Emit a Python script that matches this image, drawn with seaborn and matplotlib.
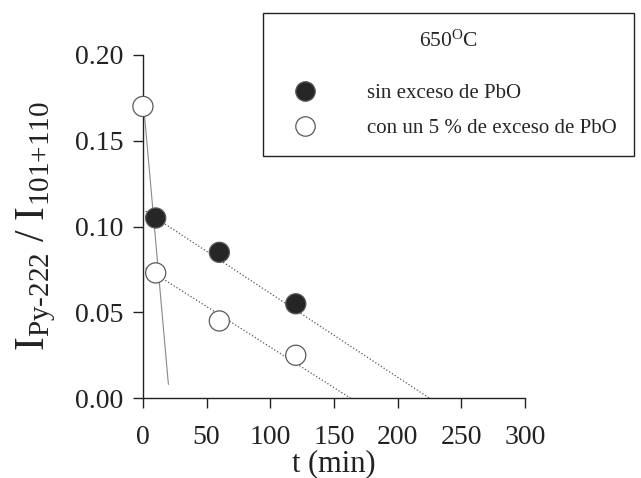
import numpy as np
import pandas as pd
import matplotlib
matplotlib.use("Agg")
import matplotlib.pyplot as plt
import seaborn as sns
from matplotlib.lines import Line2D

# datos (650 C)
t_sin = [10, 60, 120]
r_sin = [0.105, 0.085, 0.055]
t_con = [0, 10, 60, 120]
r_con = [0.170, 0.073, 0.045, 0.025]

# rectas de ajuste (extremos)
fit_sin_t = [0, 225]
fit_sin_r = [0.110, 0.0]
fit_con_t = [0, 163]
fit_con_r = [0.077, 0.0]
fit_ini_t = [0, 20]
fit_ini_r = [0.175, 0.008]

labels = ["sin exceso de PbO", "con un 5 % de exceso de PbO"]

df = pd.DataFrame({
    "t": t_sin + t_con,
    "r": r_sin + r_con,
    "serie": [labels[0]] * len(t_sin) + [labels[1]] * len(t_con),
})

sns.set_theme(style="ticks")
plt.rcParams["font.family"] = ["Liberation Serif", "DejaVu Serif"]
plt.rcParams["mathtext.fontset"] = "custom"
plt.rcParams["mathtext.rm"] = "Liberation Serif"
plt.rcParams["mathtext.it"] = "Liberation Serif:italic"

fig = plt.figure(figsize=(6.41, 4.78), dpi=100)
ax = fig.add_axes([0.223, 0.167, 0.596, 0.718])

ax.plot(fit_sin_t, fit_sin_r, ls=":", lw=0.9, color="#555555")
ax.plot(fit_con_t, fit_con_r, ls=":", lw=0.9, color="#555555")
ax.plot(fit_ini_t, fit_ini_r, ls="-", lw=0.8, color="#888888")

sns.scatterplot(data=df, x="t", y="r", hue="serie", style="serie",
                palette={labels[0]: "#262626", labels[1]: "white"},
                markers={labels[0]: "o", labels[1]: "o"},
                s=210, edgecolor="#5a5a5a", linewidth=0.9,
                legend=False, ax=ax, zorder=3, clip_on=False)

ax.set_xlim(0, 300)
ax.set_ylim(0, 0.20)
ax.set_xticks(np.arange(0, 301, 50))
ax.set_yticks(np.arange(0, 0.201, 0.05))
ax.yaxis.set_major_formatter(matplotlib.ticker.FormatStrFormatter("%.2f"))
ax.tick_params(labelsize=20, length=7, width=1, color="#222222", labelcolor="#222222")
ax.tick_params(axis="x", pad=12)
ax.tick_params(axis="y", pad=7)
sns.despine(ax=ax)
for s in ["left", "bottom"]:
    ax.spines[s].set_linewidth(1.0)
    ax.spines[s].set_color("#222222")

ax.set_xlabel("t (min)", fontsize=22, color="#222222", labelpad=0)
ylab = "$\\mathrm{I_{Py\u2010222}\\ /\\ I_{101{+}110}}$"
ax.set_ylabel(ylab, fontsize=30, color="#222222", labelpad=12)

handles = [
    Line2D([], [], ls="", marker="o", markersize=14, markerfacecolor="#262626",
           markeredgecolor="#5a5a5a", markeredgewidth=0.9),
    Line2D([], [], ls="", marker="o", markersize=14, markerfacecolor="white",
           markeredgecolor="#5a5a5a", markeredgewidth=0.9),
]
leg = fig.legend(handles, labels, title="650$^{\\mathrm{O}}$C",
                 loc="upper left", bbox_to_anchor=(0.41, 0.973),
                 fontsize=15, title_fontsize=15.5, frameon=True, fancybox=False,
                 edgecolor="#222222", borderpad=0.85, borderaxespad=0,
                 handlelength=2.34, handletextpad=1.8, labelspacing=0.72)
leg._legend_box.sep = 23
leg.get_frame().set_linewidth(1.0)
leg.get_frame().set_facecolor("white")
leg.get_frame().set_alpha(1)

fig.savefig("out.png", dpi=100)
